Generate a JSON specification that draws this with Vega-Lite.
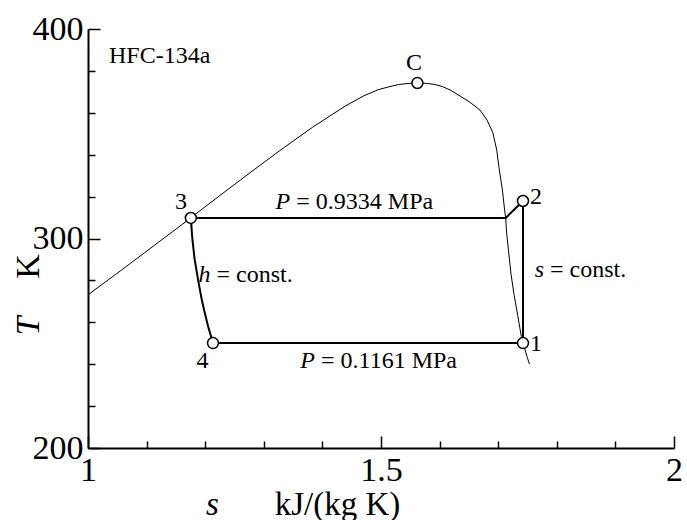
{
  "$schema": "https://vega.github.io/schema/vega-lite/v6.json",
  "width": 586,
  "height": 419,
  "autosize": {"type": "none"},
  "padding": {"left": 88, "top": 29, "right": 13, "bottom": 72},
  "background": "white",
  "config": {
    "view": {"stroke": null},
    "axis": {
      "grid": false,
      "domainColor": "black",
      "domainWidth": 2,
      "tickColor": "black",
      "tickWidth": 1.5,
      "labelColor": "black",
      "labelFont": "Liberation Serif",
      "labelFontSize": 34,
      "titleFont": "Liberation Serif",
      "titleColor": "black",
      "titleFontWeight": "normal",
      "labelFlush": false,
      "labelOverlap": false,
      "labelBound": false
    }
  },
  "datasets": {
    "dome": [
      {"s": 1.0, "T": 273.15}, {"s": 1.0486, "T": 283.15}, {"s": 1.0963, "T": 293.15},
      {"s": 1.1437, "T": 303.15}, {"s": 1.1755, "T": 309.8}, {"s": 1.1905, "T": 313.15},
      {"s": 1.2375, "T": 323.15}, {"s": 1.2849, "T": 333.15}, {"s": 1.3332, "T": 343.15},
      {"s": 1.3835, "T": 353.15}, {"s": 1.4385, "T": 363.15}, {"s": 1.471, "T": 368.15},
      {"s": 1.495, "T": 371.0}, {"s": 1.512, "T": 372.3}, {"s": 1.53, "T": 373.5},
      {"s": 1.548, "T": 374.05}, {"s": 1.5621, "T": 374.21}, {"s": 1.578, "T": 374.05},
      {"s": 1.592, "T": 373.5}, {"s": 1.605, "T": 372.5}, {"s": 1.618, "T": 370.9},
      {"s": 1.635, "T": 368.0}, {"s": 1.652, "T": 365.0}, {"s": 1.669, "T": 361.3},
      {"s": 1.681, "T": 356.5}, {"s": 1.691, "T": 350.4}, {"s": 1.6975, "T": 342.2},
      {"s": 1.7017, "T": 333.15}, {"s": 1.7072, "T": 323.15}, {"s": 1.7111, "T": 313.15},
      {"s": 1.7128, "T": 309.8}, {"s": 1.7142, "T": 303.15}, {"s": 1.718, "T": 293.15},
      {"s": 1.7218, "T": 283.15}, {"s": 1.7271, "T": 273.15}, {"s": 1.7334, "T": 263.15},
      {"s": 1.7395, "T": 253.15}, {"s": 1.7423, "T": 250.1}, {"s": 1.7497, "T": 243.15},
      {"s": 1.7535, "T": 240.0}
    ],
    "cycle": [
      {"i": 0, "s": 1.1755, "T": 309.8}, {"i": 1, "s": 1.7128, "T": 309.8},
      {"i": 2, "s": 1.7423, "T": 317.9}, {"i": 3, "s": 1.7423, "T": 250.1},
      {"i": 4, "s": 1.2133, "T": 250.1}, {"i": 5, "s": 1.205, "T": 258.0},
      {"i": 6, "s": 1.198, "T": 266.0}, {"i": 7, "s": 1.194, "T": 271.0},
      {"i": 8, "s": 1.188, "T": 280.0}, {"i": 9, "s": 1.182, "T": 290.0},
      {"i": 10, "s": 1.178, "T": 300.0}, {"i": 11, "s": 1.1755, "T": 309.8}
    ],
    "points": [
      {"name": "3", "s": 1.1755, "T": 309.8}, {"name": "4", "s": 1.2133, "T": 250.1},
      {"name": "1", "s": 1.7423, "T": 250.1}, {"name": "2", "s": 1.7423, "T": 317.9},
      {"name": "C", "s": 1.5621, "T": 374.21}
    ],
    "pointLabels": [
      {"label": "3", "s": 1.1587, "T": 317.4}, {"label": "4", "s": 1.1954, "T": 241.5},
      {"label": "1", "s": 1.7645, "T": 249.6}, {"label": "2", "s": 1.7645, "T": 319.8},
      {"label": "C", "s": 1.5563, "T": 384.0}
    ],
    "italicText": [
      {"text": "P", "s": 1.3503, "T": 314.1}, {"text": "P", "s": 1.3925, "T": 238.2},
      {"text": "s", "s": 1.7833, "T": 281.6}, {"text": "h", "s": 1.2142, "T": 279.2}
    ],
    "uprightText": [
      {"text": "= 0.9334 MPa", "s": 1.3503, "T": 314.1}, {"text": "= 0.1161 MPa", "s": 1.3925, "T": 238.2},
      {"text": "= const.", "s": 1.7833, "T": 281.6}, {"text": "= const.", "s": 1.2142, "T": 279.2},
      {"text": "HFC-134a", "s": 1.0307, "T": 383.6}
    ]
  },
  "layer": [
    {
      "data": {"name": "dome"},
      "mark": {"type": "line", "color": "black", "strokeWidth": 1, "clip": true},
      "encoding": {
        "x": {
          "field": "s", "type": "quantitative",
          "scale": {"domain": [1, 2], "nice": false, "zero": false},
          "axis": {
            "orient": "bottom",
            "values": [1, 1.1, 1.2, 1.3, 1.4, 1.5, 1.6, 1.7, 1.8, 1.9, 2],
            "labelExpr": "abs(datum.value*2 - round(datum.value*2)) < 0.000001 ? format(datum.value, '~g') : ''",
            "tickSize": {"condition": {"test": "abs(datum.value*2 - round(datum.value*2)) < 0.000001", "value": -12}, "value": -7},
            "labelPadding": 17,
            "title": "s",
            "titleFontStyle": "italic",
            "titleFontSize": 33,
            "titleX": 124,
            "titleY": 66,
            "titleBaseline": "alphabetic",
            "titleAlign": "center",
            "titleAngle": 0
          }
        },
        "y": {
          "field": "T", "type": "quantitative",
          "scale": {"domain": [200, 400], "nice": false, "zero": false},
          "axis": {
            "orient": "left",
            "values": [200, 220, 240, 260, 280, 300, 320, 340, 360, 380, 400],
            "labelExpr": "datum.value % 100 == 0 ? format(datum.value, 'd') : ''",
            "tickSize": {"condition": {"test": "datum.value % 100 == 0", "value": -12}, "value": -7},
            "labelPadding": 17,
            "title": "T",
            "titleFontStyle": "italic",
            "titleFontSize": 34,
            "titleX": -50,
            "titleY": 296.5,
            "titleAngle": 270,
            "titleBaseline": "alphabetic",
            "titleAlign": "center"
          }
        }
      }
    },
    {
      "data": {"name": "cycle"},
      "mark": {"type": "line", "color": "black", "strokeWidth": 2},
      "encoding": {
        "x": {"field": "s", "type": "quantitative", "scale": {"domain": [1, 2], "nice": false, "zero": false}, "axis": null},
        "y": {"field": "T", "type": "quantitative", "scale": {"domain": [200, 400], "nice": false, "zero": false}, "axis": null},
        "order": {"field": "i", "type": "quantitative"}
      }
    },
    {
      "data": {"name": "points"},
      "mark": {"type": "point", "shape": "circle", "filled": false, "fill": "white", "fillOpacity": 1, "stroke": "black", "strokeWidth": 1.5, "size": 120, "opacity": 1},
      "encoding": {
        "x": {
          "field": "s", "type": "quantitative", "scale": {"domain": [1, 2], "nice": false, "zero": false},
          "axis": {"orient": "bottom", "labels": false, "ticks": false, "domain": false, "title": "kJ/(kg K)", "titleFontSize": 33, "titleX": 249, "titleY": 66, "titleBaseline": "alphabetic", "titleAlign": "center", "titleAngle": 0}
        },
        "y": {
          "field": "T", "type": "quantitative", "scale": {"domain": [200, 400], "nice": false, "zero": false},
          "axis": {"orient": "left", "labels": false, "ticks": false, "domain": false, "title": "K", "titleFontSize": 34, "titleX": -50, "titleY": 237, "titleAngle": 270, "titleBaseline": "alphabetic", "titleAlign": "center"}
        }
      }
    },
    {
      "data": {"name": "pointLabels"},
      "mark": {"type": "text", "font": "Liberation Serif", "fontSize": 24, "color": "black", "align": "center", "baseline": "middle"},
      "encoding": {
        "x": {"field": "s", "type": "quantitative", "scale": {"domain": [1, 2], "nice": false, "zero": false}, "axis": null},
        "y": {"field": "T", "type": "quantitative", "scale": {"domain": [200, 400], "nice": false, "zero": false}, "axis": null},
        "text": {"field": "label"}
      }
    },
    {
      "data": {"name": "italicText"},
      "mark": {"type": "text", "font": "Liberation Serif", "fontSize": 24, "fontStyle": "italic", "color": "black", "align": "right", "baseline": "alphabetic", "dx": -3},
      "encoding": {
        "x": {"field": "s", "type": "quantitative", "scale": {"domain": [1, 2], "nice": false, "zero": false}, "axis": null},
        "y": {"field": "T", "type": "quantitative", "scale": {"domain": [200, 400], "nice": false, "zero": false}, "axis": null},
        "text": {"field": "text"}
      }
    },
    {
      "data": {"name": "uprightText"},
      "mark": {"type": "text", "font": "Liberation Serif", "fontSize": 24, "color": "black", "align": "left", "baseline": "alphabetic", "dx": 3},
      "encoding": {
        "x": {"field": "s", "type": "quantitative", "scale": {"domain": [1, 2], "nice": false, "zero": false}, "axis": null},
        "y": {"field": "T", "type": "quantitative", "scale": {"domain": [200, 400], "nice": false, "zero": false}, "axis": null},
        "text": {"field": "text"}
      }
    }
  ],
  "resolve": {"axis": {"x": "independent", "y": "independent"}}
}
